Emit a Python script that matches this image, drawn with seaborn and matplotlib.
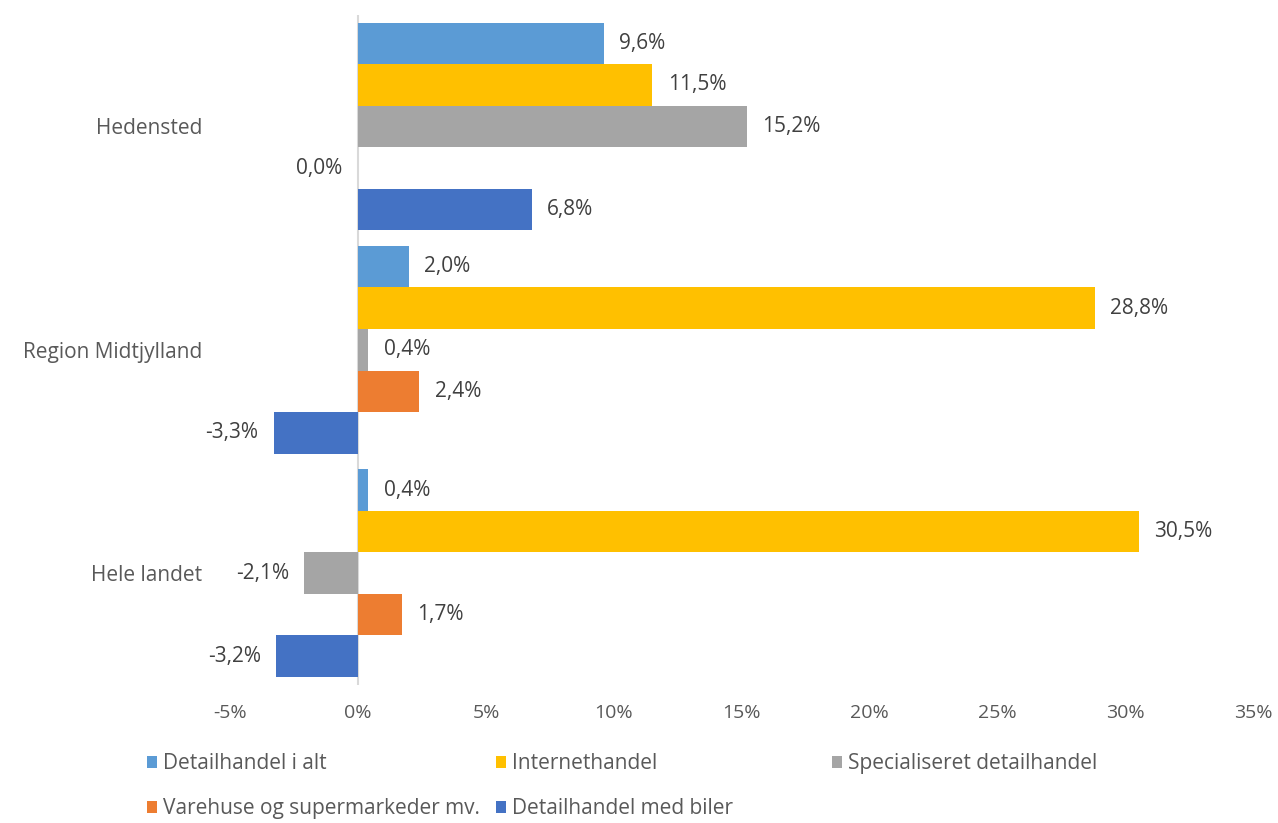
import matplotlib
matplotlib.use("Agg")
import matplotlib.pyplot as plt
import seaborn as sns
import pandas as pd
from matplotlib.patches import Patch

# ---- data ----
regions = ["Hedensted", "Region Midtjylland", "Hele landet"]
series = ["Detailhandel i alt", "Internethandel", "Specialiseret detailhandel",
          "Varehuse og supermarkeder mv.", "Detailhandel med biler"]
values = {
    "Detailhandel i alt":            [9.6, 2.0, 0.4],
    "Internethandel":                [11.5, 28.8, 30.5],
    "Specialiseret detailhandel":    [15.2, 0.4, -2.1],
    "Varehuse og supermarkeder mv.": [0.0, 2.4, 1.7],
    "Detailhandel med biler":        [6.8, -3.3, -3.2],
}
colors = ["#5B9BD5", "#FFC000", "#A5A5A5", "#ED7D31", "#4472C4"]
xticks = [-5, 0, 5, 10, 15, 20, 25, 30, 35]

rows = []
for s in series:
    for r, v in zip(regions, values[s]):
        rows.append({"region": r, "series": s, "value": v})
df = pd.DataFrame(rows)

sns.set_style("white")
plt.rcParams["font.family"] = ["Open Sans", "DejaVu Sans"]
TXT = "#595959"
FS = 15

fig = plt.figure(figsize=(12.78, 8.23), dpi=100)
ax = fig.add_axes([0.18, 0.168, 0.801, 0.814])

sns.barplot(data=df, x="value", y="region", hue="series", order=regions,
            hue_order=series, palette=colors, orient="h", width=0.93,
            dodge=True, gap=0, ax=ax, legend=False, errorbar=None,
            saturation=1, linewidth=0)

ax.set_xlim(-5, 35)
ax.set_ylim(2.5, -0.5)
ax.set_xticks(xticks)
ax.set_xticklabels([f"{t}%" for t in xticks], color=TXT, fontsize=14)
ax.tick_params(axis="x", length=0, pad=14)
ax.tick_params(axis="y", length=0, pad=20, labelsize=FS, labelcolor=TXT)
ax.set_xlabel("")
ax.set_ylabel("")
for sp in ax.spines.values():
    sp.set_visible(False)
ax.axvline(0, color="#D9D9D9", lw=1.5, zorder=0)

# data labels
for i, s in enumerate(series):
    cont = ax.containers[i]
    for bar, v in zip(cont, values[s]):
        yc = bar.get_y() + bar.get_height() / 2
        txt = f"{v:.1f}".replace(".", ",") + "%"
        if v > 0:
            ax.annotate(txt, (v, yc), xytext=(11, 0), textcoords="offset points",
                        ha="left", va="center", color="#404040", fontsize=FS)
        else:
            ax.annotate(txt, (v, yc), xytext=(-11, 0), textcoords="offset points",
                        ha="right", va="center", color="#404040", fontsize=FS)

# legend in three columns, row-major
handles = [Patch(facecolor=c, edgecolor="none") for c in colors]
cols = [([0, 3], 147 / 1278), ([1, 4], 496 / 1278), ([2], 832 / 1278)]
for idxs, xpos in cols:
    fig.legend([handles[k] for k in idxs], [series[k] for k in idxs],
               loc="upper left", bbox_to_anchor=(xpos, 1 - 753 / 823),
               frameon=False, fontsize=FS, handlelength=0.5,
               handleheight=0.5, handletextpad=0.25, labelspacing=1.15,
               borderpad=0, borderaxespad=0, labelcolor=TXT)

fig.savefig("out.png", dpi=100)
